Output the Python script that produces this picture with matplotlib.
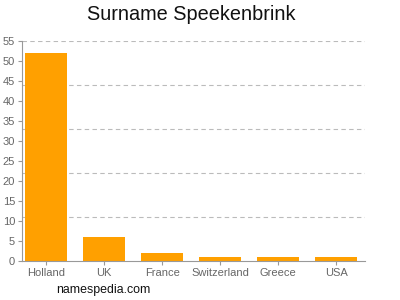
import matplotlib

matplotlib.use("Agg")
import matplotlib.pyplot as plt
import numpy as np

countries = ["Holland", "UK", "France", "Switzerland", "Greece", "USA"]
counts = [52, 6, 2, 1, 1, 1]
y_ticks = list(range(0, 56, 5))
grid_levels = [11, 22, 33, 44, 55]

plt.rcParams["font.family"] = ["Liberation Sans", "DejaVu Sans"]

fig = plt.figure(figsize=(4.0, 3.0), dpi=100)
ax = fig.add_axes([0.055, 0.13, 0.8575, 0.733])

x = np.arange(len(countries))
ax.bar(x, counts, width=0.73, color="#ffa000", zorder=2)

for level in grid_levels:
    ax.axhline(level, color="#bbbbbb", linewidth=0.8, linestyle=(0, (4, 3)), zorder=1)

ax.set_xlim(-0.42, 5.5)
ax.set_ylim(0, 55)
ax.set_yticks(y_ticks)
ax.set_xticks(x)
ax.set_xticklabels(countries)

grey = "#999999"
for side in ("top", "right"):
    ax.spines[side].set_visible(False)
for side in ("left", "bottom"):
    ax.spines[side].set_color(grey)
    ax.spines[side].set_linewidth(0.8)
ax.tick_params(axis="both", colors=grey, labelcolor="#666666", labelsize=8, length=3, width=0.8, pad=2)

fig.text(0.478, 0.952, "Surname Speekenbrink", ha="center", va="center", fontsize=14.3, color="#111111")
fig.text(0.259, 0.033, "namespedia.com", ha="center", va="center", fontsize=8.9, color="#111111")

fig.savefig("out.png", dpi=100)
plt.close(fig)
